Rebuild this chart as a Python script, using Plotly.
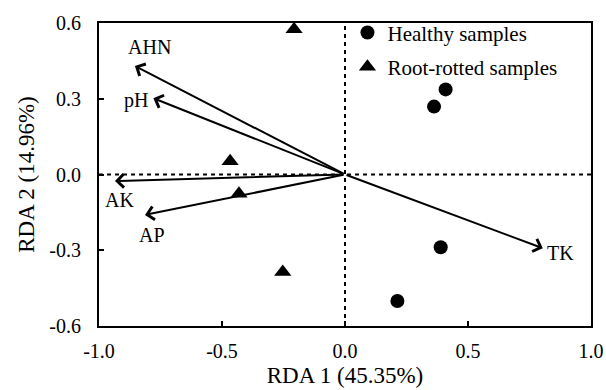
import plotly.graph_objects as go

# Sample scores
healthy_x = [0.409, 0.362, 0.389, 0.213]
healthy_y = [0.337, 0.269, -0.288, -0.501]
rotted_x = [-0.207, -0.467, -0.431, -0.253]
rotted_y = [0.575, 0.052, -0.076, -0.386]

# Environmental variable arrows (tips)
env_names = ["AHN", "pH", "AK", "AP", "TK"]
env_x = [-0.854, -0.779, -0.935, -0.813, 0.804]
env_y = [0.430, 0.302, -0.026, -0.160, -0.292]
# label positions
lab_x = [-0.793, -0.850, -0.915, -0.786, 0.874]
lab_y = [0.505, 0.295, -0.101, -0.240, -0.312]

x_ticks = [-1.0, -0.5, 0.0, 0.5, 1.0]
x_ticktext = ["-1.0", "-0.5", "0.0", "0.5", "1.0"]
y_ticks = [-0.6, -0.3, 0.0, 0.3, 0.6]
y_ticktext = ["-0.6", "-0.3", "0.0", "0.3", "0.6"]

FONT = "Liberation Serif"

fig = go.Figure()

# dotted zero lines
fig.add_trace(go.Scatter(x=[0, 0], y=[-0.6, 0.6], mode="lines",
                         line=dict(color="black", width=2, dash="4px,4px"),
                         showlegend=False, hoverinfo="skip"))
fig.add_trace(go.Scatter(x=[-1, 1], y=[0, 0], mode="lines",
                         line=dict(color="black", width=2, dash="4px,4px"),
                         showlegend=False, hoverinfo="skip"))

fig.add_trace(go.Scatter(x=healthy_x, y=healthy_y, mode="markers",
                         name="Healthy samples", legendgroup="h",
                         marker=dict(symbol="circle", size=14, color="black")))
fig.add_trace(go.Scatter(x=rotted_x, y=rotted_y, mode="markers",
                         name="Root-rotted samples", legendgroup="r",
                         marker=dict(symbol="triangle-up", size=15, color="black")))

annotations = []
for name, ex, ey, lx, ly in zip(env_names, env_x, env_y, lab_x, lab_y):
    annotations.append(dict(x=ex, y=ey, ax=0, ay=0, xref="x", yref="y",
                            axref="x", ayref="y", text="", showarrow=True,
                            arrowhead=4, arrowsize=1.3, arrowwidth=2,
                            arrowcolor="black"))
    annotations.append(dict(x=lx, y=ly, xref="x", yref="y", text=name,
                            showarrow=False,
                            font=dict(family=FONT, size=20, color="black")))

fig.update_layout(
    width=606, height=390,
    margin=dict(l=99, r=15, t=23, b=64),
    paper_bgcolor="white", plot_bgcolor="white",
    font=dict(family=FONT, size=18, color="black"),
    annotations=annotations,
    legend=dict(x=0.505, y=1.035, xanchor="left", yanchor="top",
                font=dict(family=FONT, size=21, color="black"),
                bgcolor="rgba(0,0,0,0)", tracegroupgap=4, itemwidth=30),
    xaxis=dict(range=[-1, 1], tickvals=x_ticks, ticktext=x_ticktext,
               ticks="inside", ticklen=5, tickwidth=1.5, tickcolor="black",
               showline=True, linecolor="black", linewidth=2, mirror=True,
               showgrid=False, zeroline=False, ticklabelstandoff=6,
               automargin=False,
               tickfont=dict(family=FONT, size=20),
               title=dict(text="RDA 1 (45.35%)", font=dict(family=FONT, size=23),
                          standoff=6)),
    yaxis=dict(range=[-0.6, 0.6], tickvals=y_ticks, ticktext=y_ticktext,
               ticks="inside", ticklen=5, tickwidth=1.5, tickcolor="black",
               showline=True, linecolor="black", linewidth=2, mirror=True,
               showgrid=False, zeroline=False, ticklabelstandoff=12,
               automargin=False,
               tickfont=dict(family=FONT, size=20),
               title=dict(text="RDA 2 (14.96%)", font=dict(family=FONT, size=23),
                          standoff=8)),
)

fig.write_html("out.html")
